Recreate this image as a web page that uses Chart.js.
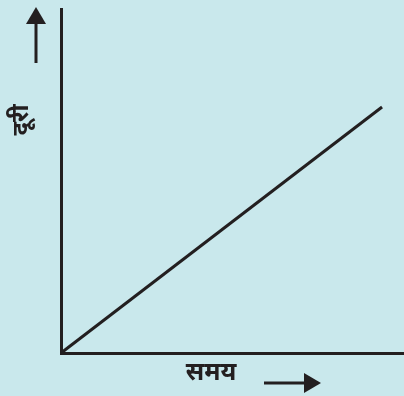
<!DOCTYPE html>
<html>
<head>
<meta charset="utf-8">
<script src="https://cdn.jsdelivr.net/npm/chart.js@4"></script>
<style>
html,body{margin:0;padding:0;background:#c9e8ec;}
#wrap{width:404px;height:396px;position:relative;}
</style>
</head>
<body>
<div id="wrap"><canvas id="c"></canvas></div>
<script>
// Data (no tick labels in the original; arbitrary units)
const timeValues = [0, 9.36];      // समय
const distanceValues = [0, 7.15];  // दूरी
const xLabel = 'समय';
const yLabel = 'दूरी';

const INK = '#231f20';
const BG = '#c9e8ec';

const points = timeValues.map((t, i) => ({x: t, y: distanceValues[i]}));

const decor = {
  id: 'decor',
  beforeDraw(chart) {
    const ctx = chart.ctx;
    ctx.save();
    ctx.fillStyle = BG;
    ctx.fillRect(0, 0, chart.width, chart.height);
    ctx.restore();
  },
  afterDraw(chart) {
    const ctx = chart.ctx;
    const a = chart.chartArea;
    ctx.save();
    ctx.fillStyle = INK;
    ctx.strokeStyle = INK;
    // up arrow
    const ax = a.left - 25;
    ctx.lineWidth = 3;
    ctx.beginPath();
    ctx.moveTo(ax, 63);
    ctx.lineTo(ax, 22);
    ctx.stroke();
    ctx.beginPath();
    ctx.moveTo(ax, 7);
    ctx.lineTo(ax - 10, 24);
    ctx.lineTo(ax + 10, 24);
    ctx.closePath();
    ctx.fill();
    // right arrow
    const ay = a.bottom + 30;
    ctx.beginPath();
    ctx.moveTo(264, ay);
    ctx.lineTo(306, ay);
    ctx.stroke();
    ctx.beginPath();
    ctx.moveTo(321, ay);
    ctx.lineTo(304, ay - 10);
    ctx.lineTo(304, ay + 10);
    ctx.closePath();
    ctx.fill();
    // labels
    ctx.font = 'italic bold 25px "Noto Sans", sans-serif';
    ctx.textAlign = 'center';
    ctx.textBaseline = 'middle';
    ctx.fillText(xLabel, 211, a.bottom + 20);
    ctx.translate(21, 120);
    ctx.rotate(-Math.PI / 2);
    ctx.font = 'bold 24px "Noto Sans", sans-serif';
    ctx.fillText(yLabel, 0, 0);
    ctx.restore();
  }
};

new Chart(document.getElementById('c'), {
  type: 'line',
  data: {
    datasets: [{
      data: points,
      borderColor: INK,
      borderWidth: 3,
      pointRadius: 0,
      fill: false,
      tension: 0,
      clip: false
    }]
  },
  options: {
    responsive: true,
    maintainAspectRatio: false,
    animation: false,
    layout: {padding: {left: 61, top: 9, right: 0, bottom: 43}},
    plugins: {legend: {display: false}, tooltip: {enabled: false}},
    scales: {
      x: {
        type: 'linear', min: 0, max: 10,
        ticks: {display: false},
        grid: {display: false, drawTicks: false},
        border: {display: true, width: 3, color: INK}
      },
      y: {
        type: 'linear', min: 0, max: 10,
        ticks: {display: false},
        grid: {display: false, drawTicks: false},
        border: {display: true, width: 3, color: INK}
      }
    }
  },
  plugins: [decor]
});
</script>
</body>
</html>
